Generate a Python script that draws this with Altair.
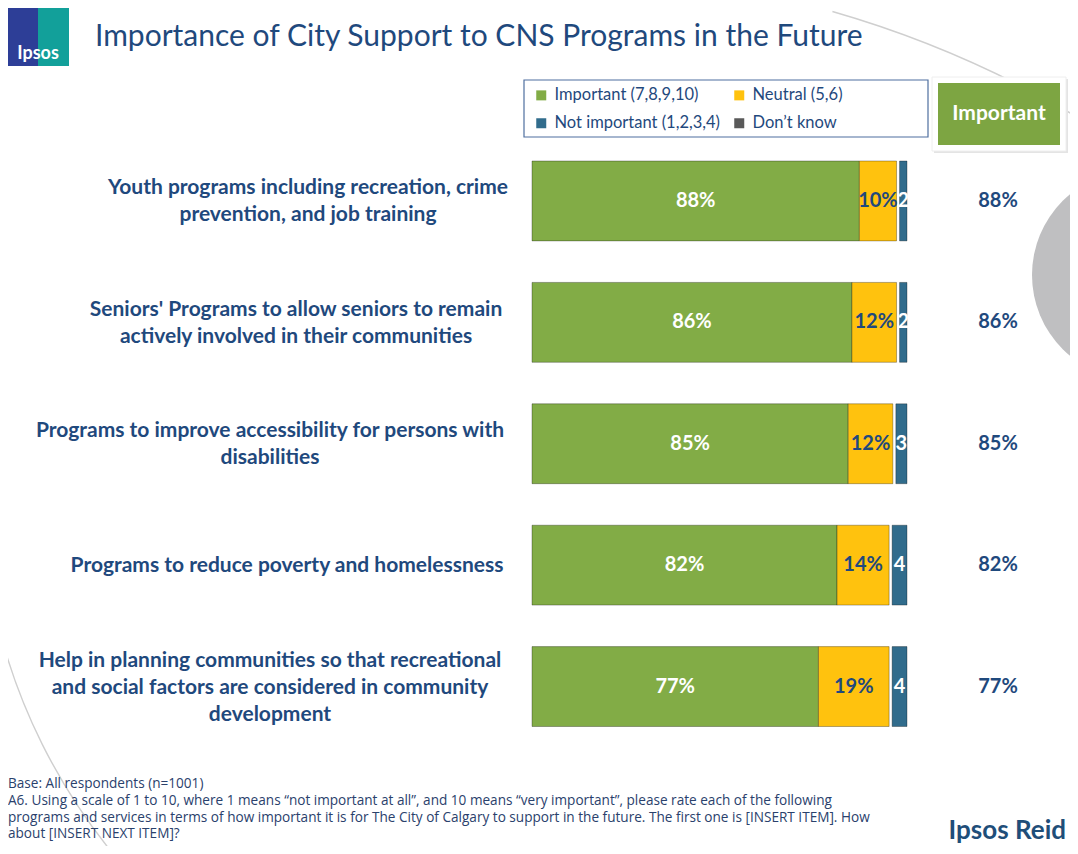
import altair as alt
import pandas as pd

# ---------------- data ----------------
item_ids = ["r1", "r2", "r3", "r4", "r5"]
item_labels = [
    "Youth programs including recreation, crime\nprevention, and job training",
    "Seniors' Programs to allow seniors to remain\nactively involved in their communities",
    "Programs to improve accessibility for persons with\ndisabilities",
    "Programs to reduce poverty and homelessness",
    "Help in planning communities so that recreational\nand social factors are considered in community\ndevelopment",
]
important = [88, 86, 85, 82, 77]
neutral = [10, 12, 12, 14, 19]
not_important = [2, 2, 3, 4, 4]
dont_know = [0, 0, 0, 0, 0]
categories = ["Important (7,8,9,10)", "Neutral (5,6)", "Not important (1,2,3,4)", "Don\u2019t know"]

title_text = "Importance of City Support to CNS Programs in the Future"
footnote_lines = [
    "Base: All respondents (n=1001)",
    "A6. Using a scale of 1 to 10, where 1 means \u201cnot important at all\u201d, and 10 means \u201cvery important\u201d, please rate each of the following",
    "programs and services in terms of how important it is for The City of Calgary to support in the future.  The first one is [INSERT ITEM]. How",
    "about [INSERT NEXT ITEM]?",
]

# ---------------- layout / style ----------------
W, H = 1062, 838
FONT = "Lato"
NAVY = "#1F497D"
cat_colors = ["#82AC46", "#FFC20E", "#316C8C", "#595959"]
label_center_x = [300, 288, 262, 279, 262]   # centre of each wrapped label block
LINE_H = 27

# ---------------- tables ----------------
rows = []
for i, key in enumerate(item_ids):
    start = 0
    for cat, vals in zip(categories, [important, neutral, not_important, dont_know]):
        v = vals[i]
        if v > 0:
            lab = f"{v}%" if cat != categories[2] else f"{v}"
            rows.append(dict(item=key, cat=cat, start=start, end=start + v,
                             mid=start + v / 2, lab=lab))
        start += v
seg = pd.DataFrame(rows)
main = seg[seg["cat"].isin(categories[:2])]
ni = seg[seg["cat"] == categories[2]]

items_df = pd.DataFrame(dict(item=item_ids, label=item_labels,
                             imp=[f"{v}%" for v in important], lx=label_center_x,
                             nl=[s.count("\n") + 1 for s in item_labels]))

xs = alt.Scale(domain=[0, 100], range=[524, 896])
ys = alt.Scale(domain=item_ids, range=[132.25, 739.25], paddingInner=0.342, paddingOuter=0.171)
cs = alt.Scale(domain=categories, range=cat_colors)
legend = alt.Legend(title=None, orient="none", legendX=525, legendY=79, columns=2,
                    direction="horizontal", labelLimit=400,
                    symbolType="square", symbolSize=100, symbolStrokeWidth=0,
                    labelFont=FONT, labelFontSize=16.5, labelColor=NAVY,
                    labelOffset=5, rowPadding=11, columnPadding=10, padding=0)

Y = alt.Y("item:N", scale=ys, axis=None)
C = alt.Color("cat:N", scale=cs, legend=legend)

bars_main = alt.Chart(main).mark_bar(stroke="black", strokeOpacity=0.3, strokeWidth=1).encode(
    x=alt.X("start:Q", scale=xs, axis=None), x2="end:Q", y=Y, color=C)
bars_ni = alt.Chart(ni).mark_bar(stroke="black", strokeOpacity=0.3, strokeWidth=1,
                                 xOffset=3, x2Offset=3).encode(
    x=alt.X("start:Q", scale=xs, axis=None), x2="end:Q", y=Y, color=C)

txt_main = alt.Chart(main).mark_text(font=FONT, fontSize=20, fontWeight="bold").encode(
    x=alt.X("mid:Q", scale=xs, axis=None), y=Y, text="lab:N",
    color=alt.condition(alt.datum.cat == categories[1], alt.value(NAVY), alt.value("white")))
txt_ni = alt.Chart(ni).mark_text(font=FONT, fontSize=20, fontWeight="bold", dx=3, color="white").encode(
    x=alt.X("mid:Q", scale=xs, axis=None), y=Y, text="lab:N")

label_layers = []
for n in sorted(items_df["nl"].unique()):
    label_layers.append(
        alt.Chart(items_df[items_df["nl"] == n]).mark_text(
            font=FONT, fontSize=21, fontWeight="bold", color=NAVY, align="center",
            baseline="middle", lineBreak="\n", lineHeight=LINE_H, dy=-(int(n) - 1) * LINE_H / 2 + 1
        ).encode(x=alt.X("lx:Q", scale=None, axis=None), y=Y, text="label:N")
    )
right_vals = alt.Chart(items_df).mark_text(font=FONT, fontSize=20, fontWeight="bold", color=NAVY).encode(
    x=alt.value(990), y=Y, text="imp:N")

one = alt.Data(values=[{}])
circle = alt.Chart(one).mark_circle(size=44100, color="#BFBFC1", opacity=1).encode(
    x=alt.value(1129), y=alt.value(267))
arc_top = alt.Chart(one).mark_arc(radius=1048, radius2=1046.6, theta=0.28, theta2=0.62,
                                  color="#CFCFCF").encode(x=alt.value(535), y=alt.value(1010))
arc_left = alt.Chart(one).mark_arc(radius=586, radius2=584.6, theta=4.0, theta2=4.5,
                                   color="#CFCFCF").encode(x=alt.value(558), y=alt.value(475))

logo_l = alt.Chart(one).mark_rect(color="#2D3E97").encode(
    x=alt.value(0), x2=alt.value(30), y=alt.value(0), y2=alt.value(58))
logo_r = alt.Chart(one).mark_rect(color="#12A09A").encode(
    x=alt.value(30), x2=alt.value(61), y=alt.value(0), y2=alt.value(58))
logo_t = alt.Chart(one).mark_text(text="Ipsos", font=FONT, fontSize=18, fontWeight="bold",
                                  color="white").encode(x=alt.value(30), y=alt.value(46))
title = alt.Chart(one).mark_text(text=title_text, font=FONT, fontSize=30, color=NAVY,
                                 align="left", baseline="alphabetic").encode(
    x=alt.value(87), y=alt.value(38))

legend_box = alt.Chart(one).mark_rect(fill="white", stroke="#4F6F9F", strokeWidth=1.2).encode(
    x=alt.value(516), x2=alt.value(920), y=alt.value(72), y2=alt.value(129))
hdr_shadow = alt.Chart(one).mark_rect(fill="#E4E4E4").encode(
    x=alt.value(926), x2=alt.value(1060), y=alt.value(71), y2=alt.value(145))
hdr_frame = alt.Chart(one).mark_rect(fill="white", stroke="#EEEEEE").encode(
    x=alt.value(924), x2=alt.value(1058), y=alt.value(69), y2=alt.value(143))
hdr_box = alt.Chart(one).mark_rect(fill="#7DA542").encode(
    x=alt.value(930), x2=alt.value(1052), y=alt.value(75), y2=alt.value(137))
hdr_text = alt.Chart(one).mark_text(text="Important", font=FONT, fontSize=21, fontWeight="bold",
                                    color="white").encode(x=alt.value(991), y=alt.value(106))

foot = alt.Chart(one).mark_text(text=footnote_lines, font="Open Sans", fontSize=13.6, color="#2A416C",
                                align="left", baseline="top", lineHeight=16.8).encode(
    x=alt.value(0), y=alt.value(769))
brand = alt.Chart(one).mark_text(text="Ipsos Reid", font=FONT, fontSize=26, fontWeight="bold",
                                 color="#1F4E79", align="right", baseline="middle").encode(
    x=alt.value(1058), y=alt.value(823))

chart = alt.layer(
    arc_top, arc_left, circle, logo_l, logo_r, logo_t, title, legend_box, hdr_shadow, hdr_frame,
    hdr_box, hdr_text, bars_main, bars_ni, txt_main, txt_ni, *label_layers, right_vals, foot, brand
).resolve_scale(x="independent").properties(
    width=W, height=H, autosize=alt.AutoSizeParams(type="none"), padding=0, background="white"
).configure_view(stroke=None)

chart.save("out.html", embed_options={"renderer": "svg", "actions": False})
